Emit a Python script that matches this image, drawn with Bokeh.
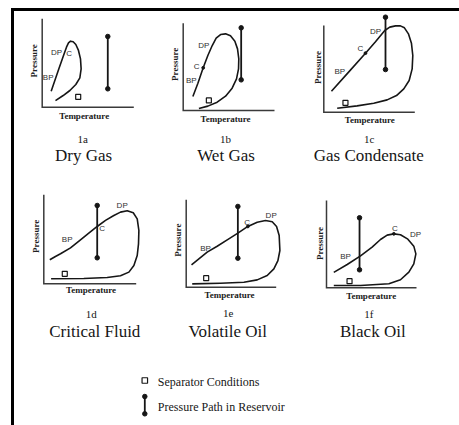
import math
from bokeh.plotting import figure
from bokeh.models import Range1d
from bokeh.embed import file_html
from bokeh.resources import INLINE
from bokeh.core.properties import value

# ---------------- data (T and P in % of each panel's axis length) ----------------
panel_ids = ["1a", "1b", "1c", "1d", "1e", "1f"]
fluid_names = ["Dry Gas", "Wet Gas", "Gas Condensate", "Critical Fluid", "Volatile Oil", "Black Oil"]
axis_titles = ["Temperature", "Pressure"]

# phase envelopes: from the bubble-point end, up over the top, down the dew-point side
t_1a = [9.8, 13.8, 18.2, 22.9, 26.5, 28.7, 30.9, 33.8, 36.7, 39.6, 41.8, 42.5, 41.1, 36.7, 30.2, 22.9, 14.5]
p_1a = [18.1, 30.2, 43.4, 57.4, 67.9, 72.8, 74.7, 74.0, 70.9, 64.2, 54.7, 43.4, 33.2, 25.7, 18.9, 13.2, 7.5]

t_1b = [10.6, 16.1, 21.9, 27.0, 31.8, 36.1, 40.9, 46.4, 51.8, 56.6, 59.5, 60.9, 60.6, 58.4, 53.6, 46.4, 37.2, 27.0, 17.2]
p_1b = [16.0, 31.3, 48.9, 63.0, 74.4, 82.8, 87.0, 87.8, 85.5, 79.4, 70.6, 59.2, 47.7, 36.3, 25.6, 16.4, 9.5, 5.0, 2.3]

t_1c = [8.4, 27.5, 45.8, 56.8, 67.0, 72.5, 78.8, 84.2, 88.6, 93.0, 96.3, 97.8, 97.1, 93.8, 87.9, 79.9, 69.6, 54.9, 36.6, 14.7]
p_1c = [24.2, 46.5, 68.1, 81.2, 94.2, 98.1, 99.6, 99.6, 97.3, 90.4, 79.6, 65.4, 50.0, 36.5, 26.9, 19.2, 14.2, 10.4, 7.3, 4.6]

t_1d = [6.5, 12.6, 18.1, 28.9, 39.7, 48.7, 57.8, 66.8, 75.8, 83.0, 90.3, 96.8, 101.1, 102.9, 102.5, 101.1, 97.5, 92.1, 83.0, 68.6, 43.3, 7.9]
p_1d = [27.0, 30.7, 33.7, 40.4, 49.4, 56.9, 64.4, 71.2, 76.8, 80.5, 82.0, 79.8, 73.0, 59.9, 44.9, 31.8, 20.6, 13.1, 9.0, 7.1, 6.0, 5.6]

t_1e = [5.9, 23.3, 34.4, 45.6, 57.4, 68.5, 78.9, 88.1, 95.6, 100.4, 103.3, 104.1, 101.9, 97.4, 90.0, 78.9, 64.1, 38.1, 6.7]
p_1e = [25.6, 40.1, 46.9, 54.2, 61.8, 69.5, 74.4, 76.3, 74.8, 69.5, 59.2, 42.0, 30.5, 21.0, 13.4, 8.4, 5.7, 4.6, 3.8]

t_1f = [8.1, 23.0, 37.8, 50.7, 60.0, 67.4, 74.8, 82.2, 90.4, 97.0, 99.3, 97.0, 91.5, 82.2, 69.3, 37.8, 8.1]
p_1f = [17.6, 26.7, 36.6, 46.6, 55.3, 60.3, 61.8, 60.7, 55.7, 47.7, 38.9, 27.5, 17.9, 9.2, 4.6, 2.7, 2.7]

envelope_t = [t_1a, t_1b, t_1c, t_1d, t_1e, t_1f]
envelope_p = [p_1a, p_1b, p_1c, p_1d, p_1e, p_1f]

# separator conditions
sep_t = [39.3, 28.1, 23.8, 22.7, 22.2, 25.6]
sep_p = [11.7, 11.5, 10.8, 11.2, 10.3, 7.6]

# isothermal pressure path in the reservoir
path_t = [71.6, 63.5, 67.8, 57.8, 57.4, 36.7]
path_top = [80.0, 94.7, 109.6, 88.0, 92.4, 80.2]
path_bottom = [20.8, 35.1, 49.2, 29.2, 33.2, 20.6]

# critical points (marked where visible)
crit_t = [math.nan, 21.9, 45.8, math.nan, 68.5, 74.8]
crit_p = [math.nan, 48.9, 68.1, math.nan, 69.5, 61.8]

# curve annotations DP / C / BP
curve_tags = ["DP", "C", "BP"]
tag_t = [[15.6, 29.5, 6.5], [22.6, 14.6, 8.8], [56.8, 40.3, 17.6],
         [84.8, 63.2, 25.3], [94.4, 67.8, 21.5], [98.9, 75.9, 21.1]]
tag_p = [[62.3, 60.4, 33.2], [74.4, 50.4, 34.4], [93.1, 73.8, 46.9],
         [88.0, 61.8, 49.4], [82.1, 74.4, 43.9], [60.7, 67.6, 35.9]]

# each panel's axes span 0..100 % of temperature and pressure
axis_t = [0, 0, 100]
axis_p = [100, 0, 0]

legend_labels = ["Separator Conditions", "Pressure Path in Reservoir"]

# ---------------- layout (page pixels) / style ----------------
SERIF = "Liberation Serif"
SANS = "Liberation Sans"
INK = "#161616"
AXIS = "#3a3a3a"
FIG_W, FIG_H = 445, 414
OX, OY = 14, 11          # page position of the figure inside the frame lines

axis_x0 = [41.7, 182.7, 323.3, 43.3, 185.7, 326.0]
axis_x1 = [133.3, 274.0, 414.3, 135.7, 275.7, 416.0]
axis_yb = [106.7, 110.0, 111.7, 283.3, 286.7, 287.3]
axis_yt = [18.3, 22.7, 25.0, 194.3, 199.3, 200.0]

temp_x = [83.7, 225.0, 369.3, 90.5, 229.0, 370.7]
temp_y = [115.7, 118.3, 119.0, 289.0, 294.0, 295.0]
pres_x = [33.3, 174.0, 317.7, 35.0, 177.7, 319.3]
pres_y = [60.3, 63.8, 67.0, 235.8, 239.7, 243.0]
id_x = [82.3, 225.0, 368.7, 90.7, 227.7, 368.3]
id_y = [138.5, 138.5, 138.5, 313.0, 313.0, 313.0]
name_x = [83.0, 225.5, 368.3, 94.3, 227.2, 372.3]
name_y = [155.0, 155.0, 155.0, 330.5, 330.5, 330.5]

leg_key_x = 144.3
leg_text_x = 157.3
leg_y = [381.7, 406.7]


def fx(v):
    return [a - OX for a in v]


def fy(v):
    return [a - OY for a in v]


p = figure(width=FIG_W, height=FIG_H, output_backend="svg", toolbar_location=None,
           x_range=Range1d(0, FIG_W), y_range=Range1d(FIG_H, 0),
           x_axis_type=None, y_axis_type=None, min_border=0)
p.title = None
p.outline_line_color = None
p.background_fill_color = "white"
p.border_fill_color = "white"

# one pair of scales per panel, mapping 0..100 % onto the panel's axes
xr, yr = {}, {}
for i in range(6):
    X0, X1 = axis_x0[i] - OX, axis_x1[i] - OX
    Yb, Yt = axis_yb[i] - OY, axis_yt[i] - OY
    kx = 100.0 / (X1 - X0)
    ky = 100.0 / (Yb - Yt)
    xr[f"p{i}"] = Range1d(-X0 * kx, (FIG_W - X0) * kx)
    yr[f"p{i}"] = Range1d((Yb - FIG_H) * ky, Yb * ky)
p.extra_x_ranges = xr
p.extra_y_ranges = yr

for i in range(6):
    rn = dict(x_range_name=f"p{i}", y_range_name=f"p{i}")
    p.line(axis_t, axis_p, line_width=1.5, line_color=AXIS, line_join="miter", **rn)
    p.line(envelope_t[i], envelope_p[i], line_width=1.6, line_color=INK, line_join="round", **rn)
    p.segment(x0=[path_t[i]], y0=[path_bottom[i]], x1=[path_t[i]], y1=[path_top[i]],
              line_width=1.8, line_color=INK, **rn)
    p.scatter([path_t[i], path_t[i]], [path_bottom[i], path_top[i]], marker="circle",
              size=4.5, fill_color=INK, line_color=INK, **rn)
    p.scatter([sep_t[i]], [sep_p[i]], marker="square", size=5, fill_color="white",
              line_color=INK, line_width=1.2, **rn)
    if not math.isnan(crit_t[i]):
        p.scatter([crit_t[i]], [crit_p[i]], marker="circle", size=2.8, fill_color=INK,
                  line_color=INK, **rn)
    p.text(tag_t[i], tag_p[i], text=curve_tags, text_font=value(SANS), text_font_size="8px",
           text_align="center", text_baseline="middle", text_color="#303030", **rn)

# axis titles and captions
p.text(fx(temp_x), fy(temp_y), text=[axis_titles[0]] * 6, text_font=value(SERIF),
       text_font_size="9px", text_font_style="bold", text_color="#202020",
       text_align="center", text_baseline="middle")
p.text(fx(pres_x), fy(pres_y), text=[axis_titles[1]] * 6, text_font=value(SERIF),
       text_font_size="9px", text_font_style="bold", text_color="#202020",
       text_align="center", text_baseline="middle", angle=math.pi / 2)
p.text(fx(id_x), fy(id_y), text=panel_ids, text_font=value(SERIF), text_font_size="11px",
       text_color=INK, text_align="center", text_baseline="alphabetic")
p.text(fx(name_x), fy(name_y), text=fluid_names, text_font=value(SERIF), text_font_size="17px",
       text_color=INK, text_align="center", text_baseline="alphabetic")

# legend
kx0 = leg_key_x - OX
p.scatter([kx0], [380 - OY], marker="square", size=5.5, fill_color="white",
          line_color=INK, line_width=1.2)
p.segment(x0=[kx0], y0=[396 - OY], x1=[kx0], y1=[413.3 - OY], line_width=1.8, line_color=INK)
p.scatter([kx0, kx0], [396 - OY, 413.3 - OY], marker="circle", size=4.5,
          fill_color=INK, line_color=INK)
p.text(fx([leg_text_x, leg_text_x]), fy(leg_y), text=legend_labels, text_font=value(SERIF),
       text_font_size="12px", text_align="left", text_baseline="middle", text_color=INK)

from bokeh.layouts import column
root = column(p, styles={"border-top": "3px solid #000", "border-left": "3px solid #000",
                         "margin-top": "8px", "margin-left": "11px"})

open("out.html", "w").write(file_html(root, INLINE))
